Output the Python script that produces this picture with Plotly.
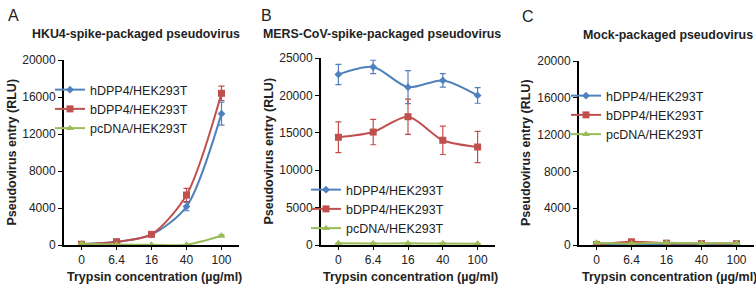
import plotly.graph_objects as go

W, H = 756, 287

categories = ["0", "6.4", "16", "40", "100"]
series_names = ["hDPP4/HEK293T", "bDPP4/HEK293T", "pcDNA/HEK293T"]

# Panel A: HKU4-spike-packaged pseudovirus
a_hdpp4 = [100, 320, 1120, 4150, 14200]
a_hdpp4_err = [40, 80, 150, 450, 1250]
a_bdpp4 = [80, 360, 1150, 5400, 16400]
a_bdpp4_err = [40, 100, 150, 720, 780]
a_pcdna = [160, 50, 20, 30, 1000]
a_pcdna_err = [30, 20, 10, 10, 120]

# Panel B: MERS-CoV-spike-packaged pseudovirus
b_hdpp4 = [22800, 23800, 21100, 22000, 20000]
b_hdpp4_err = [1350, 900, 2200, 900, 1050]
b_bdpp4 = [14400, 15100, 17150, 14000, 13100]
b_bdpp4_err = [2050, 1700, 2350, 1900, 2100]
b_pcdna = [220, 200, 220, 200, 180]
b_pcdna_err = [40, 40, 40, 40, 40]

# Panel C: Mock-packaged pseudovirus
c_hdpp4 = [60, 80, 70, 60, 60]
c_hdpp4_err = [20, 20, 20, 20, 20]
c_bdpp4 = [60, 350, 200, 150, 150]
c_bdpp4_err = [30, 60, 40, 30, 30]
c_pcdna = [250, 160, 250, 200, 200]
c_pcdna_err = [30, 30, 30, 30, 30]

panel_titles = ["HKU4-spike-packaged pseudovirus",
                "MERS-CoV-spike-packaged pseudovirus",
                "Mock-packaged pseudovirus"]
panel_letters = ["A", "B", "C"]
y_ticks = [[0, 4000, 8000, 12000, 16000, 20000],
           [0, 5000, 10000, 15000, 20000, 25000],
           [0, 4000, 8000, 12000, 16000, 20000]]
x_title = "Trypsin concentration (µg/ml)"
y_title = "Pseudovirus entry (RLU)"

panels = [
    [(a_hdpp4, a_hdpp4_err), (a_bdpp4, a_bdpp4_err), (a_pcdna, a_pcdna_err)],
    [(b_hdpp4, b_hdpp4_err), (b_bdpp4, b_bdpp4_err), (b_pcdna, b_pcdna_err)],
    [(c_hdpp4, c_hdpp4_err), (c_bdpp4, c_bdpp4_err), (c_pcdna, c_pcdna_err)],
]

colors = ["#4F81BD", "#C0504D", "#9BBB59"]
symbols = ["diamond", "square", "triangle-up"]
msizes = [6, 7, 7]

FONT = "Arial, Liberation Sans, sans-serif"

# pixel layout
px_x = [(64, 239), (321, 495), (579, 754)]
px_y = [(60, 245), (58, 245), (61, 245)]
legend_px = [(50, 75), (306, 175), (566, 81)]
title_px = [(136, 34), (382, 34), (668, 35)]
letter_px = [(13, 16), (266, 16), (528, 17)]
ytitle_px = [11, 268, 526]

def fx(x):
    return x / W

def fy(y):
    return 1 - y / H

fig = go.Figure()
annotations = []
layout = {}
for p in range(3):
    suffix = "" if p == 0 else str(p + 1)
    legend_name = "legend" + suffix
    for s in range(3):
        vals, errs = panels[p][s]
        fig.add_trace(go.Scatter(
            x=categories, y=vals,
            name=series_names[s],
            mode="lines+markers",
            line=dict(color=colors[s], width=2, shape="spline", smoothing=0.8),
            marker=dict(color=colors[s], symbol=symbols[s], size=msizes[s]),
            error_y=dict(type="data", array=errs, visible=True,
                         color=colors[s], thickness=1.2, width=3),
            xaxis="x" + suffix, yaxis="y" + suffix,
            legend=legend_name,
            showlegend=True,
        ))
    x0, x1 = px_x[p]
    y0, y1 = px_y[p]
    layout["xaxis" + suffix] = dict(
        domain=[fx(x0), fx(x1)], anchor="y" + suffix,
        type="category", categoryorder="array", categoryarray=categories,
        range=[-0.5, 4.5],
        showline=True, linecolor="black", linewidth=1.5,
        ticks="outside", ticklen=3, tickwidth=1, tickcolor="black",
        showgrid=False, zeroline=False, automargin=False,
        tickfont=dict(family=FONT, size=12, color="#222"),
    )
    layout["yaxis" + suffix] = dict(
        domain=[fy(y1), fy(y0)], anchor="x" + suffix,
        range=[0, y_ticks[p][-1]],
        tickvals=y_ticks[p], ticktext=[str(v) for v in y_ticks[p]],
        showline=True, linecolor="black", linewidth=2,
        ticks="outside", ticklen=4, tickwidth=1.2, tickcolor="black",
        showgrid=False, zeroline=False, automargin=False,
        tickfont=dict(family=FONT, size=12, color="#222"),
    )
    lx, ly = legend_px[p]
    layout[legend_name] = dict(
        x=fx(lx), y=fy(ly), xanchor="left", yanchor="top",
        bgcolor="rgba(0,0,0,0)", borderwidth=0,
        font=dict(family=FONT, size=12.5, color="#222"),
        itemwidth=30, tracegroupgap=0,
    )
    tx, ty = title_px[p]
    annotations.append(dict(text="<b>" + panel_titles[p] + "</b>", x=fx(tx), y=fy(ty),
                            xref="paper", yref="paper", showarrow=False,
                            xanchor="center", yanchor="middle",
                            font=dict(family=FONT, size=12.4, color="#222")))
    lx2, ly2 = letter_px[p]
    annotations.append(dict(text=panel_letters[p], x=fx(lx2), y=fy(ly2),
                            xref="paper", yref="paper", showarrow=False,
                            xanchor="center", yanchor="middle",
                            font=dict(family=FONT, size=16, color="#222")))
    annotations.append(dict(text="<b>" + x_title + "</b>", x=fx((x0 + x1) / 2 + 3), y=fy(277),
                            xref="paper", yref="paper", showarrow=False,
                            xanchor="center", yanchor="middle",
                            font=dict(family=FONT, size=12.5, color="#222")))
    annotations.append(dict(text="<b>" + y_title + "</b>", x=fx(ytitle_px[p]), y=fy((y0 + y1) / 2),
                            xref="paper", yref="paper", showarrow=False, textangle=-90,
                            xanchor="center", yanchor="middle",
                            font=dict(family=FONT, size=12.5, color="#222")))

fig.update_layout(
    width=W, height=H,
    margin=dict(l=0, r=0, t=0, b=0, autoexpand=False),
    paper_bgcolor="white", plot_bgcolor="white",
    annotations=annotations,
    **layout,
)

fig.write_html("out.html", post_script="document.body.style.margin='0';document.body.style.overflow='hidden';")
